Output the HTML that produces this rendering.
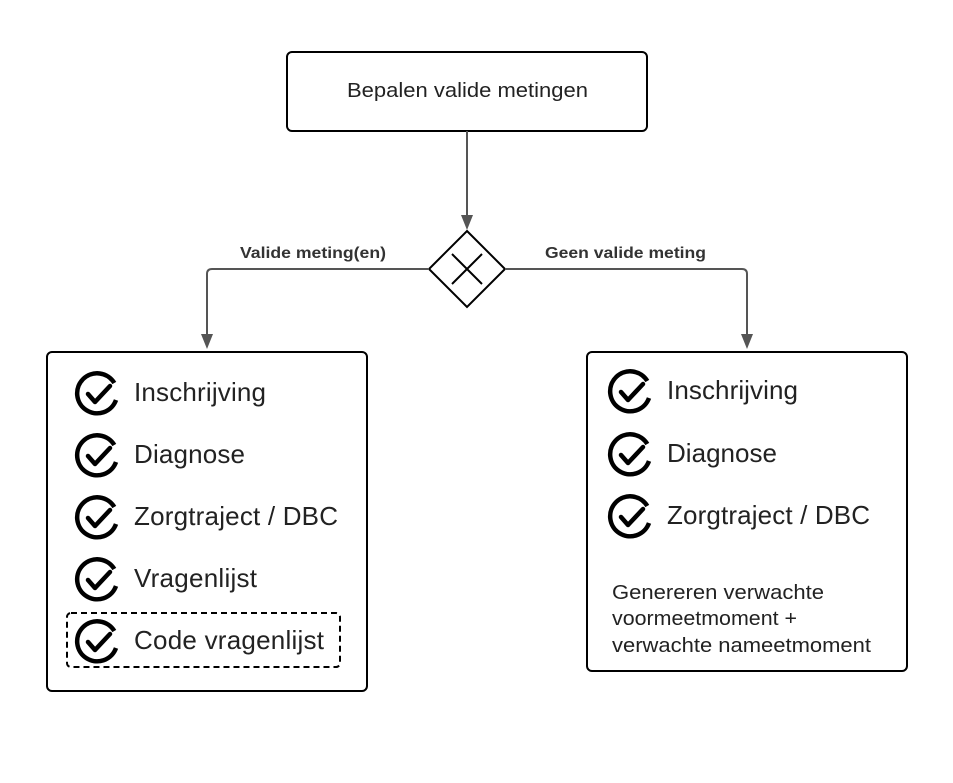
<!DOCTYPE html>
<html><head><style>body{margin:0;background:#fff}</style></head><body>
<svg width="953" height="778" xmlns="http://www.w3.org/2000/svg" font-family="Liberation Sans, sans-serif">
<defs>
<g id="chk"><path d="M17.3,-11 A20,20 0 1 0 19,6" fill="none" stroke="#000" stroke-width="4.5"/><path d="M-9,0 L-2,8 L13,-8" fill="none" stroke="#000" stroke-width="4.5" stroke-linejoin="round" stroke-linecap="round"/></g>
</defs>
<rect x="287" y="52" width="360" height="79" rx="5" fill="#fff" stroke="#000" stroke-width="2"/>
<text x="347" y="97" font-size="20" textLength="241" lengthAdjust="spacingAndGlyphs" fill="#222">Bepalen valide metingen</text>
<path d="M467 131 V216" stroke="#555" stroke-width="2" fill="none"/>
<path d="M461 215 L473 215 L467 230 Z" fill="#555"/>
<path d="M467 231 L505 269 L467 307 L429 269 Z" fill="#fff" stroke="#000" stroke-width="2"/>
<path d="M452 254 L482 284 M482 254 L452 284" stroke="#000" stroke-width="2"/>
<path d="M429 269 H212 Q207 269 207 274 V336" stroke="#555" stroke-width="2" fill="none"/>
<path d="M201 334 L213 334 L207 349 Z" fill="#555"/>
<path d="M505 269 H742 Q747 269 747 274 V336" stroke="#555" stroke-width="2" fill="none"/>
<path d="M741 334 L753 334 L747 349 Z" fill="#555"/>
<text x="240" y="258" font-size="16" font-weight="bold" textLength="146" lengthAdjust="spacingAndGlyphs" fill="#333">Valide meting(en)</text>
<text x="545" y="258" font-size="16" font-weight="bold" textLength="161" lengthAdjust="spacingAndGlyphs" fill="#333">Geen valide meting</text>
<rect x="47" y="352" width="320" height="339" rx="5" fill="#fff" stroke="#000" stroke-width="2"/>
<rect x="587" y="352" width="320" height="319" rx="5" fill="#fff" stroke="#000" stroke-width="2"/>
<rect x="67" y="613" width="273" height="54" rx="4" fill="none" stroke="#000" stroke-width="2" stroke-dasharray="6,4"/>
<g font-size="26" fill="#222" lengthAdjust="spacingAndGlyphs">
<use href="#chk" x="97" y="394"/><text x="134" y="401" textLength="132">Inschrijving</text>
<use href="#chk" x="97" y="456"/><text x="134" y="463" textLength="111">Diagnose</text>
<use href="#chk" x="97" y="518"/><text x="134" y="525" textLength="204">Zorgtraject / DBC</text>
<use href="#chk" x="97" y="580"/><text x="134" y="587" textLength="123">Vragenlijst</text>
<use href="#chk" x="97" y="642"/><text x="134" y="649" textLength="190">Code vragenlijst</text>
<use href="#chk" x="630" y="392"/><text x="667" y="399" textLength="131">Inschrijving</text>
<use href="#chk" x="630" y="455"/><text x="667" y="462" textLength="110">Diagnose</text>
<use href="#chk" x="630" y="517"/><text x="667" y="524" textLength="203">Zorgtraject / DBC</text>
</g>
<g font-size="20" fill="#222">
<text x="612" y="599" textLength="212" lengthAdjust="spacingAndGlyphs">Genereren verwachte</text>
<text x="612" y="625" textLength="185" lengthAdjust="spacingAndGlyphs">voormeetmoment +</text>
<text x="612" y="652" textLength="259" lengthAdjust="spacingAndGlyphs">verwachte nameetmoment</text>
</g>
</svg>
</body></html>
